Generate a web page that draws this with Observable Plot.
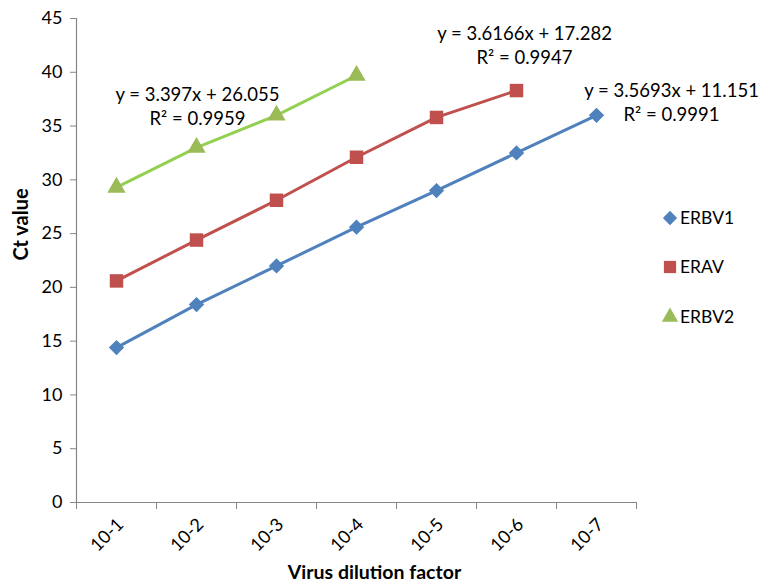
<!DOCTYPE html>
<html><head><meta charset="utf-8">
<script src="https://cdn.jsdelivr.net/npm/d3@7"></script>
<script src="https://cdn.jsdelivr.net/npm/@observablehq/plot@0.6"></script>
<style>
html,body{margin:0;padding:0;background:#fff;}
#wrap{position:relative;width:763px;height:588px;font-family:Lato,"Open Sans",sans-serif;}
#legend{position:absolute;left:0;top:0;}
</style></head>
<body><div id="wrap"></div>
<script>
// ---- data ----
const dilutions = ["10-1","10-2","10-3","10-4","10-5","10-6","10-7"];
const seriesNames = ["ERBV1","ERAV","ERBV2"];
const erbv1 = [14.4, 18.4, 22.0, 25.6, 29.0, 32.5, 36.0];
const erav  = [20.6, 24.4, 28.1, 32.1, 35.8, 38.3];
const erbv2 = [29.3, 33.0, 36.0, 39.7];
const equations = ["y = 3.5693x + 11.151\nR² = 0.9991", "y = 3.6166x + 17.282\nR² = 0.9947", "y = 3.397x + 26.055\nR² = 0.9959"];
const yTicks = [0, 5, 10, 15, 20, 25, 30, 35, 40, 45];

// ---- styles ----
const markerColors = ["#4F81BD", "#C0504D", "#9BBB59"];
const lineColors   = ["#4F81BD", "#C0504D", "#92D050"];
const symbols = ["diamond2", "square", "triangle"];
const markerR = [6.9, 7.6, 6.8];
const axisGray = "#868686";
const font = "Lato, 'Open Sans', sans-serif";

const values = [erbv1, erav, erbv2];
const rows = [];
values.forEach((arr, s) => arr.forEach((v, i) => rows.push({series: seriesNames[s], s, i, pos: i + 0.5, label: dilutions[i], value: v})));

// equation anchors: which point of each series, and pixel offsets
const eqAnchor = [{s:0, i:6, dx:75, dy:-14}, {s:1, i:5, dx:8, dy:-46}, {s:2, i:1, dx:1, dy:-42}];
const eqRows = eqAnchor.map((a, k) => ({...a, pos: a.i + 0.5, value: values[a.s][a.i], text: equations[k]}));

const color = d3.scaleOrdinal(seriesNames, markerColors);
const lcolor = d3.scaleOrdinal(seriesNames, lineColors);

const chart = Plot.plot({
  width: 763, height: 588,
  marginLeft: 76, marginRight: 127, marginTop: 18, marginBottom: 86,
  style: {fontFamily: font, fontSize: "18px", color: "#000", background: "#fff"},
  x: {domain: [0, dilutions.length], axis: null},
  y: {domain: [0, 45], axis: null},
  r: {type: "identity"},
  marks: [
    Plot.axisY({ticks: yTicks, tickSize: 6, tickPadding: 8, stroke: axisGray, fill: "#000", fontSize: 18, label: null}),
    Plot.axisX({ticks: d3.range(0, dilutions.length + 1), tickSize: 7, tickFormat: () => "", stroke: axisGray, label: null}),
    Plot.axisX({ticks: dilutions.map((d, i) => i + 0.5), tickSize: 0, tickPadding: 19, tickRotate: -45, dx: 4,
      tickFormat: v => dilutions[Math.round(v - 0.5)], fill: "#000", fontSize: 18, label: null}),
    Plot.ruleY([0], {stroke: axisGray, strokeWidth: 1.2}),
    Plot.ruleX([0], {stroke: axisGray, strokeWidth: 1.2}),
    Plot.line(rows, {x: "pos", y: "value", z: "series", stroke: d => lcolor(d.series), strokeWidth: 3}),
    Plot.dot(rows, {x: "pos", y: "value", symbol: d => symbols[d.s], fill: d => color(d.series), r: d => markerR[d.s], stroke: "none"}),
    ...eqRows.map(e => Plot.text([e], {x: "pos", y: "value", text: "text", dx: e.dx, dy: e.dy, fontSize: 18.5, lineHeight: 1.3, fill: "#000"})),
    Plot.text(["Ct value"], {text: d => d, frameAnchor: "left", rotate: -90, dx: -55, fontWeight: "bold", fontSize: 20, fill: "#000"}),
    Plot.text(["Virus dilution factor"], {text: d => d, frameAnchor: "bottom", dx: 18, dy: 76, fontWeight: "bold", fontSize: 19.5, fill: "#000"})
  ]
});
document.getElementById("wrap").appendChild(chart);

// ---- legend ----
const lg = d3.select("#wrap").append("svg").attr("id", "legend").attr("width", 763).attr("height", 588)
  .style("pointer-events", "none");
const legY = [218, 267, 317];
const legSym = [d3.symbolDiamond2, d3.symbolSquare, d3.symbolTriangle];
const legSize = [130, 150, 115];
seriesNames.forEach((name, k) => {
  const g = lg.append("g").attr("transform", `translate(670,${legY[k]})`);
  g.append("path").attr("d", d3.symbol(legSym[k], legSize[k])()).attr("fill", markerColors[k]);
  g.append("text").attr("x", 10).attr("y", 0).attr("dy", "0.35em").attr("font-size", 17.5)
    .attr("font-family", font).attr("fill", "#000").text(name);
});
</script>
</body></html>
